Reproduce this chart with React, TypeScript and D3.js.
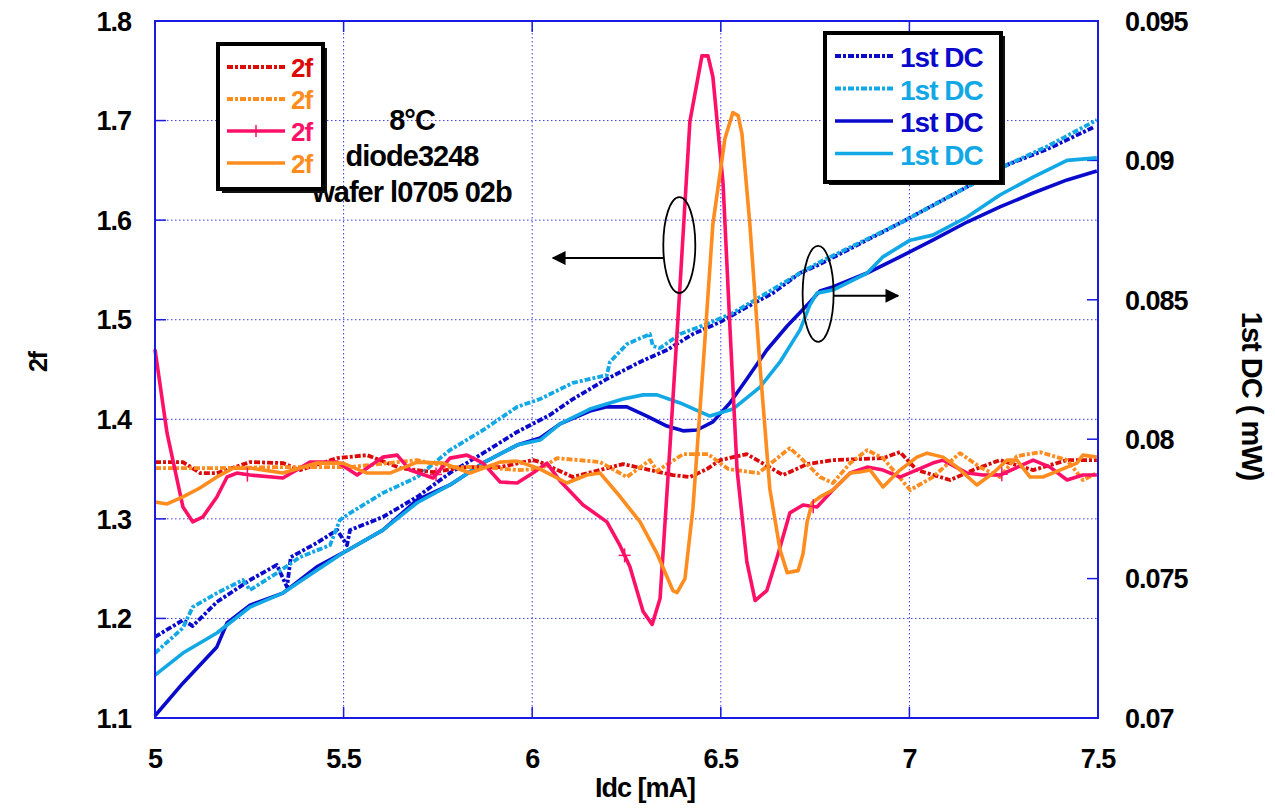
import React from 'react';
import * as d3 from 'd3';

// ---------- axis ticks ----------
const xTicks = [5, 5.5, 6, 6.5, 7, 7.5];
const xTickLabels = ['5', '5.5', '6', '6.5', '7', '7.5'];
const leftTicks = [1.1, 1.2, 1.3, 1.4, 1.5, 1.6, 1.7, 1.8];
const leftTickLabels = ['1.1', '1.2', '1.3', '1.4', '1.5', '1.6', '1.7', '1.8'];
const rightTicks = [0.07, 0.075, 0.08, 0.085, 0.09, 0.095];
const rightTickLabels = ['0.07', '0.075', '0.08', '0.085', '0.09', '0.095'];

// ---------- 2f series (left axis) ----------
const red2fDashed: [number, number][] = [
  [5.0, 1.357], [5.074, 1.357], [5.12, 1.346], [5.164, 1.346], [5.252, 1.357], [5.339, 1.356],
  [5.384, 1.349], [5.483, 1.361], [5.562, 1.364], [5.65, 1.351], [5.737, 1.347], [5.827, 1.352],
  [5.915, 1.352], [6.002, 1.359], [6.021, 1.357], [6.108, 1.342], [6.241, 1.355], [6.373, 1.344],
  [6.418, 1.342], [6.463, 1.35], [6.498, 1.359], [6.569, 1.365], [6.638, 1.35], [6.665, 1.344],
  [6.729, 1.355], [6.797, 1.359], [6.93, 1.361], [6.975, 1.367], [7.02, 1.349], [7.108, 1.339],
  [7.169, 1.349], [7.24, 1.359], [7.328, 1.349], [7.418, 1.359], [7.497, 1.359],
];

const orange2fDashed: [number, number][] = [
  [5.0, 1.351], [5.164, 1.351], [5.339, 1.352], [5.517, 1.352], [5.695, 1.359], [5.782, 1.352],
  [5.87, 1.352], [5.96, 1.349], [6.021, 1.35], [6.066, 1.361], [6.18, 1.357], [6.251, 1.342],
  [6.312, 1.359], [6.331, 1.348], [6.4, 1.365], [6.466, 1.365], [6.52, 1.35], [6.6, 1.346],
  [6.683, 1.371], [6.71, 1.362], [6.763, 1.342], [6.797, 1.336], [6.843, 1.356], [6.888, 1.369],
  [6.93, 1.361], [7.002, 1.329], [7.062, 1.342], [7.134, 1.366], [7.187, 1.352], [7.24, 1.342],
  [7.285, 1.363], [7.346, 1.367], [7.418, 1.359], [7.46, 1.339], [7.497, 1.346],
];

const pink2f: [number, number][] = [
  [5.0, 1.47], [5.032, 1.386], [5.074, 1.312], [5.1, 1.297], [5.127, 1.302], [5.164, 1.322],
  [5.191, 1.342], [5.217, 1.346], [5.252, 1.344], [5.339, 1.341], [5.411, 1.357], [5.483, 1.357],
  [5.536, 1.344], [5.604, 1.362], [5.642, 1.364], [5.676, 1.349], [5.737, 1.341], [5.782, 1.361],
  [5.827, 1.364], [5.87, 1.356], [5.915, 1.337], [5.96, 1.336], [6.002, 1.346], [6.039, 1.356],
  [6.074, 1.338], [6.135, 1.314], [6.198, 1.297], [6.233, 1.273], [6.259, 1.252], [6.294, 1.207],
  [6.318, 1.194], [6.339, 1.22], [6.365, 1.371], [6.392, 1.535], [6.418, 1.699], [6.45, 1.765],
  [6.466, 1.765], [6.479, 1.744], [6.506, 1.637], [6.524, 1.494], [6.543, 1.35], [6.569, 1.257],
  [6.591, 1.218], [6.622, 1.228], [6.649, 1.261], [6.683, 1.306], [6.718, 1.314], [6.755, 1.312],
  [6.797, 1.329], [6.843, 1.346], [6.888, 1.352], [6.93, 1.349], [6.975, 1.342], [7.062, 1.356],
  [7.089, 1.359], [7.153, 1.346], [7.195, 1.344], [7.24, 1.344], [7.328, 1.359], [7.373, 1.352],
  [7.418, 1.339], [7.46, 1.344], [7.497, 1.344],
];
const pinkMarkerX = [5.245, 5.745, 6.245, 6.745, 7.245];

const orange2f: [number, number][] = [
  [5.0, 1.317], [5.032, 1.315], [5.074, 1.322], [5.119, 1.331], [5.164, 1.342], [5.207, 1.351],
  [5.252, 1.351], [5.339, 1.346], [5.429, 1.356], [5.498, 1.356], [5.562, 1.346], [5.623, 1.346],
  [5.695, 1.357], [5.764, 1.356], [5.835, 1.346], [5.915, 1.357], [5.96, 1.358], [6.021, 1.35],
  [6.092, 1.336], [6.145, 1.344], [6.18, 1.346], [6.225, 1.326], [6.286, 1.297], [6.331, 1.265],
  [6.373, 1.228], [6.384, 1.226], [6.405, 1.24], [6.426, 1.31], [6.453, 1.453], [6.479, 1.596],
  [6.511, 1.682], [6.532, 1.708], [6.546, 1.705], [6.556, 1.687], [6.577, 1.596], [6.604, 1.453],
  [6.63, 1.33], [6.657, 1.269], [6.676, 1.246], [6.705, 1.248], [6.718, 1.265], [6.729, 1.297],
  [6.742, 1.316], [6.763, 1.322], [6.797, 1.329], [6.843, 1.346], [6.869, 1.347], [6.896, 1.349],
  [6.93, 1.332], [6.975, 1.349], [7.02, 1.362], [7.047, 1.366], [7.089, 1.362], [7.126, 1.352],
  [7.179, 1.334], [7.222, 1.346], [7.259, 1.359], [7.285, 1.359], [7.32, 1.342], [7.354, 1.342],
  [7.399, 1.349], [7.444, 1.356], [7.46, 1.364], [7.497, 1.362],
];

// ---------- 1st DC series (right axis, mW) ----------
const darkDcDashed: [number, number][] = [
  [5.0, 0.07291], [5.074, 0.07351], [5.1, 0.0733], [5.13, 0.0737], [5.164, 0.07416], [5.252, 0.07495],
  [5.323, 0.07549], [5.35, 0.0747], [5.36, 0.07577], [5.429, 0.07628], [5.483, 0.07674], [5.509, 0.0762],
  [5.517, 0.07674], [5.604, 0.07721], [5.695, 0.07793], [5.782, 0.07879], [5.87, 0.0795], [5.96, 0.08026],
  [6.047, 0.08087], [6.108, 0.08144], [6.198, 0.08216], [6.286, 0.08277], [6.357, 0.0832], [6.426, 0.08377],
  [6.498, 0.0842], [6.569, 0.08474], [6.638, 0.08524], [6.71, 0.08596], [6.763, 0.08628], [6.975, 0.08775],
  [7.153, 0.08905], [7.259, 0.08984], [7.365, 0.0904], [7.49, 0.0912],
];

const lightDcDashed: [number, number][] = [
  [5.0, 0.07233], [5.074, 0.07323], [5.1, 0.07398], [5.164, 0.07448], [5.233, 0.07495], [5.252, 0.07459],
  [5.323, 0.0752], [5.384, 0.07577], [5.464, 0.0762], [5.49, 0.0771], [5.517, 0.07735], [5.604, 0.07807],
  [5.695, 0.07864], [5.782, 0.07961], [5.87, 0.08033], [5.96, 0.08116], [6.021, 0.08144], [6.108, 0.08202],
  [6.198, 0.0823], [6.206, 0.08277], [6.251, 0.08341], [6.312, 0.08377], [6.32, 0.08334], [6.339, 0.08327],
  [6.392, 0.08377], [6.463, 0.08413], [6.532, 0.08453], [6.604, 0.0851], [6.71, 0.08596], [6.763, 0.08636],
  [6.975, 0.08775], [7.153, 0.08905], [7.259, 0.08984], [7.365, 0.0905], [7.497, 0.09145],
];

const darkDc: [number, number][] = [
  [5.0, 0.07008], [5.074, 0.07125], [5.164, 0.07255], [5.191, 0.07341], [5.252, 0.07405], [5.339, 0.07448],
  [5.429, 0.07542], [5.498, 0.07592], [5.604, 0.07674], [5.695, 0.07782], [5.782, 0.07836], [5.87, 0.07915],
  [5.96, 0.07979], [6.021, 0.08004], [6.074, 0.08055], [6.153, 0.08101], [6.198, 0.08116], [6.251, 0.08116],
  [6.304, 0.08083], [6.357, 0.08047], [6.4, 0.0803], [6.437, 0.08033], [6.479, 0.08062], [6.524, 0.0813],
  [6.569, 0.08216], [6.622, 0.0832], [6.676, 0.08406], [6.729, 0.08481], [6.763, 0.08532], [6.797, 0.08546],
  [6.888, 0.08596], [6.975, 0.08654], [7.062, 0.08714], [7.153, 0.08779], [7.24, 0.08833], [7.328, 0.08883],
  [7.418, 0.0893], [7.497, 0.08962],
];

const lightDc: [number, number][] = [
  [5.0, 0.07154], [5.074, 0.07233], [5.164, 0.07305], [5.252, 0.07398], [5.339, 0.07448], [5.429, 0.0753],
  [5.498, 0.07592], [5.604, 0.07674], [5.695, 0.07772], [5.782, 0.07836], [5.87, 0.07915], [5.96, 0.07979],
  [6.021, 0.07997], [6.074, 0.08055], [6.153, 0.08108], [6.241, 0.08144], [6.294, 0.08159], [6.331, 0.08159],
  [6.392, 0.0813], [6.471, 0.08083], [6.532, 0.08108], [6.604, 0.08187], [6.657, 0.08277], [6.71, 0.08392],
  [6.736, 0.08481], [6.755, 0.08524], [6.797, 0.08535], [6.888, 0.08596], [6.93, 0.08654], [7.002, 0.08714],
  [7.062, 0.08732], [7.153, 0.08797], [7.24, 0.08876], [7.328, 0.0894], [7.418, 0.09], [7.497, 0.09009],
];

const legend2fLabels = ['2f', '2f', '2f', '2f'];
const legendDcLabels = ['1st DC', '1st DC', '1st DC', '1st DC'];
const annotationLines = ['8°C', 'diode3248', 'wafer l0705 02b'];

// ---------- styling ----------
const C = {
  red: '#dd0a0a',
  orange: '#ff8c1e',
  pink: '#ff1068',
  dark: '#0a0acc',
  light: '#12a8e6',
  axis: '#1a1ae0',
  grid: '#3a3af0',
};
const FONT = '"Liberation Sans", Arial, sans-serif';
const DASH = '6,2,3,2';

const M = { left: 155, right: 1098, top: 21, bottom: 718 };

export default function App() {
  const x = d3.scaleLinear().domain([5, 7.5]).range([M.left, M.right]);
  const yL = d3.scaleLinear().domain([1.1, 1.8]).range([M.bottom, M.top]);
  const yR = d3.scaleLinear().domain([0.07, 0.095]).range([M.bottom, M.top]);

  const lineL = d3.line<[number, number]>().x((d) => x(d[0])).y((d) => yL(d[1]));
  const lineR = d3.line<[number, number]>().x((d) => x(d[0])).y((d) => yR(d[1]));

  const interpPink = (xv: number) => {
    const i = d3.bisector((d: [number, number]) => d[0]).right(pink2f, xv);
    const a = pink2f[Math.max(0, i - 1)];
    const b = pink2f[Math.min(pink2f.length - 1, i)];
    const t = b[0] === a[0] ? 0 : (xv - a[0]) / (b[0] - a[0]);
    return a[1] + t * (b[1] - a[1]);
  };

  const dcSeries = [
    { data: darkDcDashed, color: C.dark, dash: DASH, w: 3.8 },
    { data: lightDcDashed, color: C.light, dash: DASH, w: 3.8 },
    { data: darkDc, color: C.dark, dash: undefined, w: 3.6 },
    { data: lightDc, color: C.light, dash: undefined, w: 3.6 },
  ];
  const f2Series = [
    { data: red2fDashed, color: C.red, dash: DASH, w: 3.8 },
    { data: orange2fDashed, color: C.orange, dash: DASH, w: 3.8 },
    { data: pink2f, color: C.pink, dash: undefined, w: 3.6 },
    { data: orange2f, color: C.orange, dash: undefined, w: 3.6 },
  ];

  const tickFont = { fontFamily: FONT, fontWeight: 700, fontSize: 27, fill: '#000', letterSpacing: -1 } as const;

  // annotation ellipses (data space)
  const e1 = { cx: 6.39, cy: 1.575 };
  const e2 = { cx: 6.758, cy: 1.526 };

  return (
    <svg width={1275} height={809} style={{ position: 'absolute', left: 0, top: 0, background: '#fff' }}>
      <defs>
        <marker id="arrowHead" viewBox="0 0 10 10" refX="9" refY="5" markerWidth="14" markerHeight="14" markerUnits="userSpaceOnUse" orient="auto">
          <path d="M0,0 L10,5 L0,10 z" fill="#000" />
        </marker>
      </defs>
      <rect x={0} y={0} width={1275} height={809} fill="#fff" />

      {/* grid */}
      {xTicks.slice(1, -1).map((t) => (
        <line key={'gx' + t} x1={x(t)} x2={x(t)} y1={M.top} y2={M.bottom} stroke={C.grid} strokeWidth={1} strokeDasharray="1.5,2.5" />
      ))}
      {leftTicks.slice(1, -1).map((t) => (
        <line key={'gy' + t} x1={M.left} x2={M.right} y1={yL(t)} y2={yL(t)} stroke={C.grid} strokeWidth={1} strokeDasharray="1.5,2.5" />
      ))}

      {/* tick marks */}
      {xTicks.map((t) => (
        <g key={'tx' + t}>
          <line x1={x(t)} x2={x(t)} y1={M.bottom} y2={M.bottom - 11} stroke={C.axis} strokeWidth={1.5} />
          <line x1={x(t)} x2={x(t)} y1={M.top} y2={M.top + 11} stroke={C.axis} strokeWidth={1.5} />
        </g>
      ))}
      {leftTicks.map((t) => (
        <line key={'tl' + t} x1={M.left} x2={M.left + 11} y1={yL(t)} y2={yL(t)} stroke={C.axis} strokeWidth={1.5} />
      ))}
      {rightTicks.map((t) => (
        <line key={'tr' + t} x1={M.right} x2={M.right - 11} y1={yR(t)} y2={yR(t)} stroke={C.axis} strokeWidth={1.5} />
      ))}

      {/* series */}
      {dcSeries.map((s, i) => (
        <path key={'dc' + i} d={lineR(s.data) || ''} fill="none" stroke={s.color} strokeWidth={s.w} strokeDasharray={s.dash} strokeLinejoin="round" />
      ))}
      {f2Series.map((s, i) => (
        <path key={'f2' + i} d={lineL(s.data) || ''} fill="none" stroke={s.color} strokeWidth={s.w} strokeDasharray={s.dash} strokeLinejoin="round" />
      ))}
      {pinkMarkerX.map((mx) => {
        const px = x(mx);
        const py = yL(interpPink(mx));
        return (
          <g key={'pm' + mx} stroke={C.pink} strokeWidth={1.5}>
            <line x1={px - 6} x2={px + 6} y1={py} y2={py} />
            <line x1={px} x2={px} y1={py - 7} y2={py + 7} />
          </g>
        );
      })}

      {/* frame */}
      <rect x={M.left} y={M.top} width={M.right - M.left} height={M.bottom - M.top} fill="none" stroke={C.axis} strokeWidth={2} />

      {/* annotations: ellipses & arrows */}
      <ellipse cx={x(e1.cx)} cy={yL(e1.cy)} rx={16} ry={48} fill="none" stroke="#000" strokeWidth={1.8} />
      <line x1={x(e1.cx) - 16} y1={yL(e1.cy) + 13} x2={x(6.055)} y2={yL(e1.cy) + 13} stroke="#000" strokeWidth={2} markerEnd="url(#arrowHead)" />
      <ellipse cx={x(e2.cx)} cy={yL(e2.cy)} rx={15.5} ry={48} fill="none" stroke="#000" strokeWidth={1.8} />
      <line x1={x(e2.cx) + 15.5} y1={yL(e2.cy) + 2} x2={x(6.97)} y2={yL(e2.cy) + 2} stroke="#000" strokeWidth={2} markerEnd="url(#arrowHead)" />

      {/* tick labels */}
      {xTicks.map((t, i) => (
        <text key={'xl' + t} x={x(t)} y={768} textAnchor="middle" {...tickFont}>{xTickLabels[i]}</text>
      ))}
      {leftTicks.map((t, i) => (
        <text key={'ll' + t} x={131} y={yL(t)} dy="0.36em" textAnchor="end" {...tickFont}>{leftTickLabels[i]}</text>
      ))}
      {rightTicks.map((t, i) => (
        <text key={'rl' + t} x={1125} y={yR(t)} dy="0.36em" textAnchor="start" {...tickFont}>{rightTickLabels[i]}</text>
      ))}

      {/* axis titles */}
      <text x={645} y={797} textAnchor="middle" {...tickFont}>Idc [mA]</text>
      <text transform="translate(38,362) rotate(-90)" textAnchor="middle" dy="0.36em" {...tickFont} fontSize={25}>2f</text>
      <text transform="translate(1252,396) rotate(90)" textAnchor="middle" dy="0.36em" {...tickFont} fontSize={29}>1st DC ( mW)</text>

      {/* annotation text */}
      {annotationLines.map((t, i) => (
        <text key={'an' + i} x={412} y={130 + i * 36} textAnchor="middle" {...tickFont} fontSize={29}>{t}</text>
      ))}

      {/* legend 2f */}
      <rect x={222} y={48} width={105} height={145} fill="#111" />
      <rect x={218} y={44} width={105} height={145} fill="#fff" stroke="#000" strokeWidth={4} />
      {f2Series.map((s, i) => {
        const ly = 67 + i * 32;
        return (
          <g key={'lg2f' + i}>
            <line x1={227} x2={285} y1={ly} y2={ly} stroke={s.color} strokeWidth={s.w} strokeDasharray={s.dash} />
            {i === 2 && (
              <line x1={256} x2={256} y1={ly - 6} y2={ly + 6} stroke={s.color} strokeWidth={1.5} />
            )}
            <text x={291} y={ly + 10} fontFamily={FONT} fontWeight={700} fontSize={26} fill={s.color} letterSpacing={-1}>{legend2fLabels[i]}</text>
          </g>
        );
      })}

      {/* legend 1st DC */}
      <rect x={829} y={36} width={176} height={149} fill="#111" />
      <rect x={825} y={33} width={176} height={149} fill="#fff" stroke="#000" strokeWidth={4} />
      {dcSeries.map((s, i) => {
        const ly = 56 + i * 32.5;
        return (
          <g key={'lgdc' + i}>
            <line x1={835} x2={893} y1={ly} y2={ly} stroke={s.color} strokeWidth={s.w} strokeDasharray={s.dash} />
            <text x={900} y={ly + 11} fontFamily={FONT} fontWeight={700} fontSize={28} fill={s.color} letterSpacing={-1}>{legendDcLabels[i]}</text>
          </g>
        );
      })}
    </svg>
  );
}
